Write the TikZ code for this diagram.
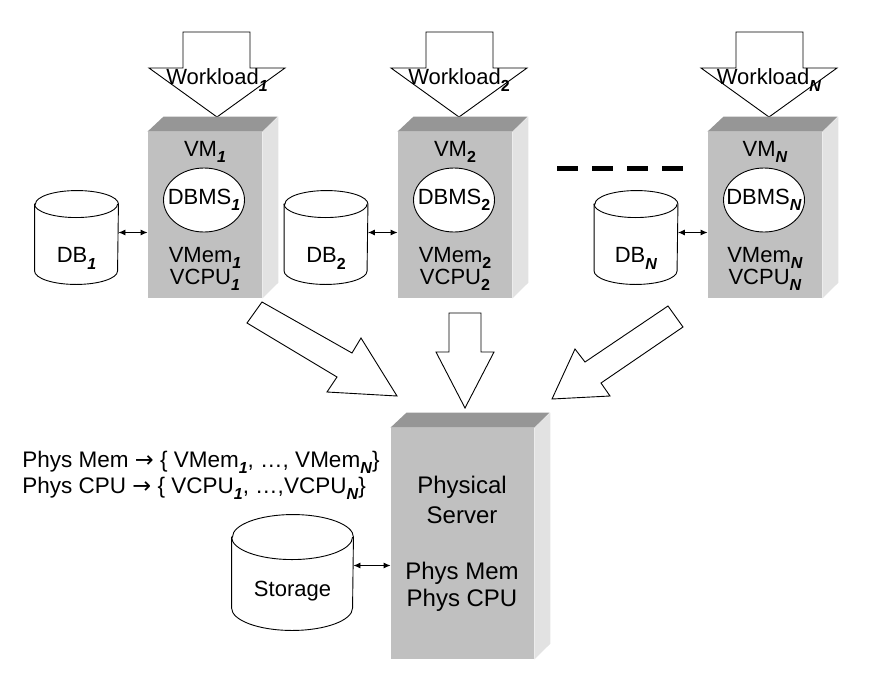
\documentclass[tikz,border=0pt]{standalone}
\usepackage{fontspec}
\setmainfont{Liberation Sans}
\newfontfamily\arrowfont{DejaVu Sans}
\usetikzlibrary{shapes.geometric,arrows.meta}
\definecolor{frontgray}{HTML}{C0C0C0}
\definecolor{topgray}{HTML}{969696}
\definecolor{sidegray}{HTML}{E2E2E2}
\newcommand{\vsub}[1]{\raisebox{-.28em}{\fontsize{16}{16}\selectfont\bfseries #1}}
% outline of a disk drum round a named node: name, x radius, y radius
\newcommand{\drum}[3]{%
  \draw ([yshift=-#3]#1.north west) -- ([yshift=#3]#1.south west)
    arc[start angle=180,end angle=360,x radius=#2,y radius=#3]
    -- ([yshift=-#3]#1.north east)
    arc[start angle=0,end angle=180,x radius=#2,y radius=#3] -- cycle;
  \draw ([yshift=-#3]#1.north west) arc[start angle=180,end angle=360,x radius=#2,y radius=#3];}

\begin{document}
\begin{tikzpicture}[x=1pt,y=-1pt,line width=0.9pt]
\tikzstyle{every node}=[font=\fontsize{22}{24}\selectfont,inner sep=0pt]
\tikzstyle{bigtext}=[font=\fontsize{24}{26}\selectfont]
\tikzstyle{vmbox}=[fill=frontgray,minimum width=114pt,minimum height=166pt]
\tikzstyle{dbms}=[ellipse,draw,fill=white,minimum width=81pt,minimum height=64pt]
\tikzstyle{disk}=[minimum width=83pt,minimum height=93pt]
\tikzstyle{bigarrow}=[draw,fill=white,line join=miter]
\tikzstyle{link}=[{Latex[length=7pt,width=6pt]}-{Latex[length=7pt,width=6pt]}]
\useasboundingbox (0,0) rectangle (893,685);

% workloads
\draw[bigarrow](183,32)--(250,32)--(250,68)--(285,68)--(217,117)--(149,68)--(183,68)--cycle;
\draw[bigarrow](426,32)--(493,32)--(493,68)--(527,68)--(459,117)--(391,68)--(426,68)--cycle;
\draw[bigarrow](736,32)--(803,32)--(803,68)--(837,68)--(769,117)--(701,68)--(736,68)--cycle;
\node (wl1) at (217,80) {Workload\vsub{\textit{1}}};
\node (wl2) at (459,80) {Workload\vsub{2}};
\node (wlN) at (769,80) {Workload\vsub{\textit{N}}};

% VM 1
\node[vmbox] (vm1) at (205,215) {};
\fill[topgray] (vm1.north west) -- ++(16,-15) -- ++(114,0) -- (vm1.north east) -- cycle;
\fill[sidegray] (vm1.north east) -- ++(16,-15) -- ++(0,166) -- (vm1.south east) -- cycle;
\node (vmname1) at (205,152) {VM\vsub{\textit{1}}};
\node[dbms,label={center:DBMS\vsub{\textit{1}}}] (dbms1) at (204,200) {};
\node (vmem1) at (205,258) {VMem\vsub{\textit{1}}};
\node (vcpu1) at (205,280) {VCPU\vsub{\textit{1}}};
\node[disk,label={[yshift=-21pt]center:DB\vsub{\textit{1}}}] (db1) at (76.5,237.5) {};
\drum{db1}{41.5pt}{13.5pt}
\draw[link] ([yshift=5pt]db1.east) -- ([yshift=5pt]db1.east -| vm1.west);

% VM 2
\node[vmbox] (vm2) at (455,215) {};
\fill[topgray] (vm2.north west) -- ++(16,-15) -- ++(114,0) -- (vm2.north east) -- cycle;
\fill[sidegray] (vm2.north east) -- ++(16,-15) -- ++(0,166) -- (vm2.south east) -- cycle;
\node (vmname2) at (455,152) {VM\vsub{2}};
\node[dbms,label={center:DBMS\vsub{2}}] (dbms2) at (454,200) {};
\node (vmem2) at (455,258) {VMem\vsub{2}};
\node (vcpu2) at (455,280) {VCPU\vsub{2}};
\node[disk,label={[yshift=-21pt]center:DB\vsub{2}}] (db2) at (326,237.5) {};
\drum{db2}{41.5pt}{13.5pt}
\draw[link] ([yshift=5pt]db2.east) -- ([yshift=5pt]db2.east -| vm2.west);

% VM N
\node[vmbox] (vmN) at (765,215) {};
\fill[topgray] (vmN.north west) -- ++(16,-15) -- ++(114,0) -- (vmN.north east) -- cycle;
\fill[sidegray] (vmN.north east) -- ++(16,-15) -- ++(0,166) -- (vmN.south east) -- cycle;
\node (vmnameN) at (765,152) {VM\vsub{\textit{N}}};
\node[dbms,label={center:DBMS\vsub{\textit{N}}}] (dbmsN) at (764,200) {};
\node (vmemN) at (765,258) {VMem\vsub{\textit{N}}};
\node (vcpuN) at (765,280) {VCPU\vsub{\textit{N}}};
\node[disk,label={[yshift=-21pt]center:DB\vsub{\textit{N}}}] (dbN) at (636,237.5) {};
\drum{dbN}{41.5pt}{13.5pt}
\draw[link] ([yshift=5pt]dbN.east) -- ([yshift=5pt]dbN.east -| vmN.west);
\draw[line width=5pt,dash pattern=on 21pt off 14pt] (557,168) -- (683,168);

% arrows down to the server
\draw[bigarrow](262,302)--(352,353)--(361,338)--(397,396)--(327,392)--(337,377)--(247,323)--cycle;
\draw[bigarrow](449,313)--(481,313)--(481,352)--(494,352)--(465,408)--(436,352)--(449,352)--cycle;
\draw[bigarrow](668,306)--(585,362)--(575,349)--(552,399)--(610,396)--(601,383)--(683,327)--cycle;

% physical server
\node[fill=frontgray,minimum width=143pt,minimum height=231pt] (server) at (462.5,543.5) {};
\fill[topgray] (server.north west) -- ++(16,-15) -- ++(143,0) -- (server.north east) -- cycle;
\fill[sidegray] (server.north east) -- ++(16,-15) -- ++(0,231) -- (server.south east) -- cycle;
\node[bigtext] (phys) at (462,487) {Physical};
\node[bigtext] (serv) at (462,515) {Server};
\node[bigtext] (pmem) at (462,573) {Phys Mem};
\node[bigtext] (pcpu) at (462,600) {Phys CPU};
\node[minimum width=121pt,minimum height=115pt,label={[yshift=-18.5pt]center:Storage}] (storage) at (292.5,572.5) {};
\drum{storage}{60.5pt}{22.5pt}
\draw[link] ([yshift=7pt]storage.east) -- ([yshift=7pt]storage.east -| server.west);

\node[anchor=west,font=\fontsize{22.5}{24}\selectfont] (memmap) at (22,462) {Phys Mem {\arrowfont →} \{ VMem\vsub{\textit{1}}, …, VMem\vsub{\textit{N}}\}};
\node[anchor=west,font=\fontsize{22.5}{24}\selectfont] (cpumap) at (22,488) {Phys CPU {\arrowfont →} \{ VCPU\vsub{\textit{1}}, …,VCPU\vsub{\textit{N}}\}};
\end{tikzpicture}
\end{document}
